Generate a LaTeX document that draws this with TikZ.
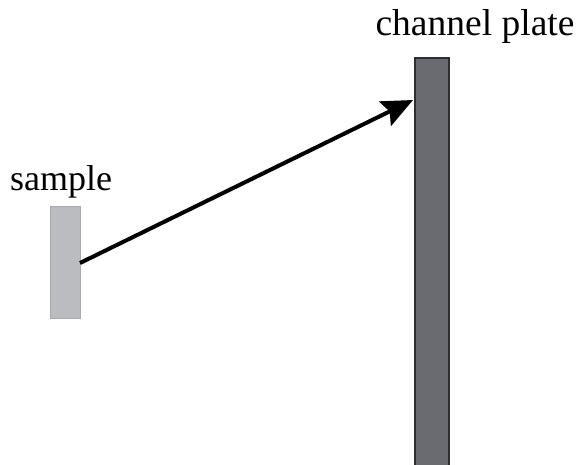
\documentclass[tikz,border=0pt]{standalone}
\usepackage{fontspec}
\setmainfont{Liberation Serif}
\usetikzlibrary{arrows.meta}
\definecolor{samplegray}{HTML}{BBBCC0}
\definecolor{sampleedge}{HTML}{A9AAAE}
\definecolor{plategray}{HTML}{6A6B70}
\definecolor{plateedge}{HTML}{2E2E30}
\tikzset{
  samplebox/.style={fill=samplegray, draw=sampleedge, line width=1pt},
  platebox/.style={fill=plategray, draw=plateedge, line width=1.6pt},
  label/.style={inner sep=0pt, anchor=base, font=\fontsize{36}{40}\selectfont},
  beam/.style={line width=4pt, -{Stealth[length=31pt, width=27pt, inset=5pt]}}
}
\begin{document}
\begin{tikzpicture}[x=1pt, y=-1pt]
  \useasboundingbox (0,0) rectangle (577,464);
  % sample holder
  \node[samplebox, minimum width=30pt, minimum height=112pt, inner sep=0pt, anchor=north west] (sample) at (49.5,206) {};
  % channel plate, running off the bottom edge
  \node[platebox, minimum width=34pt, minimum height=420pt, inner sep=0pt, anchor=north west] (plate) at (414,57) {};
  % labels
  \node[label] (samplelabel) at (61,190) {sample};
  \node[label, font=\fontsize{37.5}{40}\selectfont] (platelabel) at (475,35) {channel plate};
  % trajectory
  \coordinate (start) at (80,263);
  \coordinate (hit) at (413,100);
  \draw[beam] (start) -- (hit);
\end{tikzpicture}
\end{document}
